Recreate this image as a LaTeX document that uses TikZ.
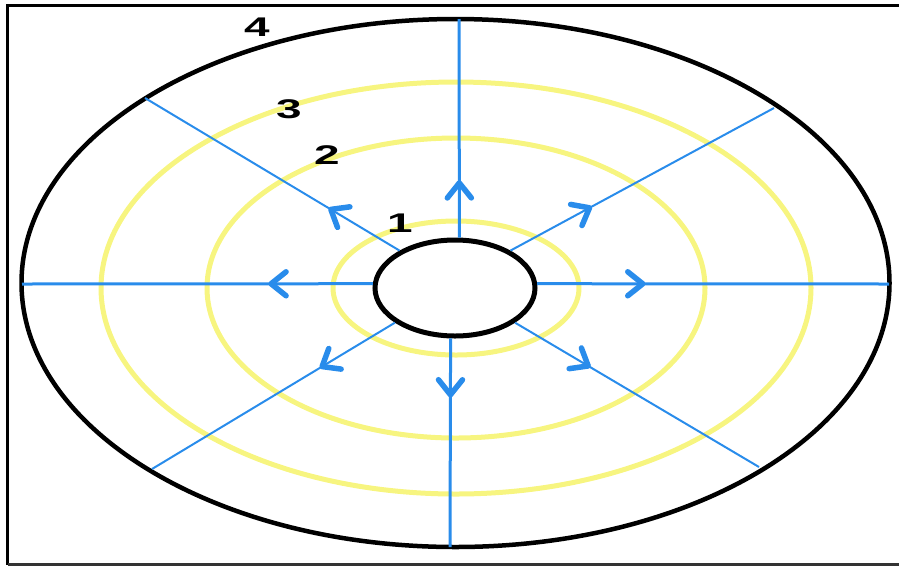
\documentclass[tikz,border=0pt]{standalone}
\usepackage{fontspec}
\setmainfont{Liberation Sans}
\usetikzlibrary{decorations.markings,shapes.geometric}
\definecolor{FlowClr}{rgb}{0.16,0.55,0.92}
\definecolor{RingClr}{rgb}{0.97,0.96,0.50}
\newcommand{\YellowRing}[2]{\draw[color=RingClr, line width=5pt](456,288) ellipse [x radius=#1, y radius=#2];}
\newcommand{\FlowLine}[4]{\draw[color=FlowClr, line width=#1, postaction={decorate},
  decoration={markings, mark=at position #2 with {\draw[line width=5.5pt, line cap=round, line join=round] (-15pt,12pt) -- (0pt,0pt) -- (-15pt,-12pt);}}] (#3) -- (#4);}
\newcommand{\RingLabel}[3]{\node[font=\bfseries\fontsize{27}{27}\selectfont, xscale=1.7] (#1) at (#2) {#3};}

\begin{document}
\begin{tikzpicture}[x=1pt, y=-1pt]
\useasboundingbox (0,0) rectangle (899,566);
\draw[line width=3.5pt] (899,5.5) -- (7.5,5.5) -- (7.5,564.5);
\draw[line width=3pt, color=black!80] (7.5,564.5) -- (899,564.5);
\YellowRing{123}{67}
\YellowRing{249}{150}
\YellowRing{355}{206}
\draw[line width=4.5pt] (455.5,283) ellipse [x radius=434, y radius=264];
\node[ellipse, draw, line width=5pt, minimum width=160pt, minimum height=96pt, inner sep=0pt] (hole) at (455,288) {};
\coordinate (top) at (459,19);
\coordinate (bot) at (450,547);
\coordinate (lft) at (22,284);
\coordinate (rgt) at (889,284);
\coordinate (ul) at (145,98);
\coordinate (ur) at (774,108);
\coordinate (ll) at (152,469);
\coordinate (lr) at (759,467);
\FlowLine{3pt}{0.25}{hole.85}{top}
\FlowLine{3pt}{0.27}{hole.265}{bot}
\FlowLine{3pt}{0.29}{hole.177}{lft}
\FlowLine{3pt}{0.30}{hole.3}{rgt}
\FlowLine{2pt}{0.27}{hole.146}{ul}
\FlowLine{2pt}{0.30}{hole.34}{ur}
\FlowLine{2pt}{0.30}{hole.210}{ll}
\FlowLine{2pt}{0.30}{hole.330}{lr}
\RingLabel{one}{400,223}{1}
\RingLabel{two}{327,155}{2}
\RingLabel{three}{289,109}{3}
\RingLabel{four}{257,27}{4}
\end{tikzpicture}
\end{document}
